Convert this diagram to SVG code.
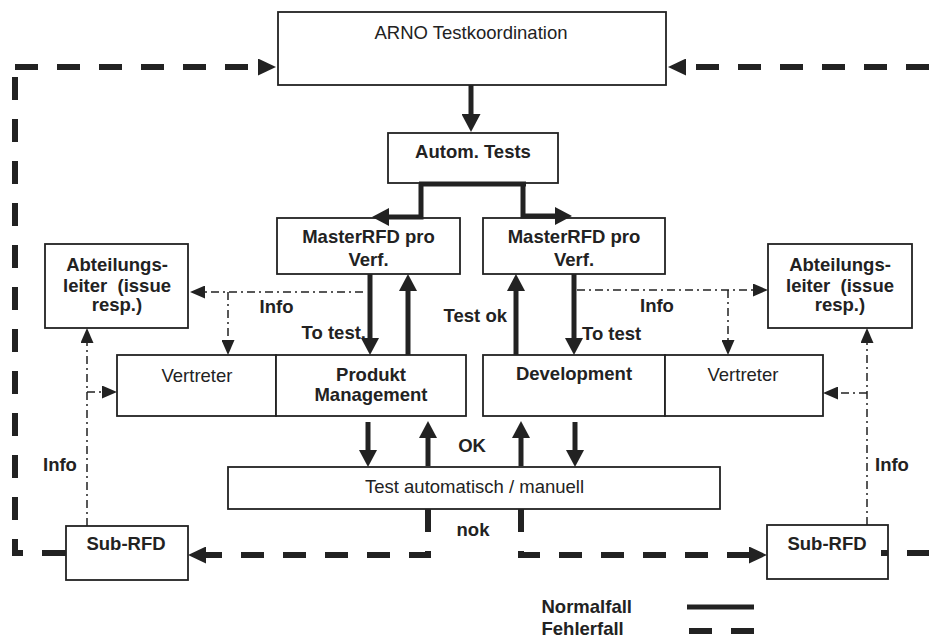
<svg xmlns="http://www.w3.org/2000/svg" width="929" height="640" viewBox="0 0 929 640">
<style>
.box{fill:#fff;stroke:#222;stroke-width:1.8}
.t{font-family:"Liberation Sans",Arial,sans-serif;font-size:18.5px;fill:#222;text-anchor:middle}
.b{font-weight:bold}
.st{text-anchor:start}
.en{text-anchor:end}
.s{stroke:#222;stroke-width:5;fill:none}
.d{stroke:#222;stroke-width:6;fill:none;stroke-dasharray:23 19}
.dd{stroke:#222;stroke-width:1.5;fill:none;stroke-dasharray:8 4 2 4}
</style>
<defs>
<marker id="ah" markerUnits="userSpaceOnUse" markerWidth="17" markerHeight="18" viewBox="0 0 17 18" refX="0" refY="9" orient="auto"><path d="M0,0 L17,9 L0,18 z" fill="#222"/></marker>
<marker id="ahb" markerUnits="userSpaceOnUse" markerWidth="18" markerHeight="19" viewBox="0 0 18 19" refX="0" refY="9.5" orient="auto"><path d="M0,0 L18,9.5 L0,19 z" fill="#222"/></marker>
<marker id="ahd" markerUnits="userSpaceOnUse" markerWidth="18" markerHeight="17" viewBox="0 0 18 17" refX="0" refY="8.5" orient="auto"><path d="M0,0 L18,8.5 L0,17 z" fill="#222"/></marker>
<marker id="aht" markerUnits="userSpaceOnUse" markerWidth="15" markerHeight="13" viewBox="0 0 15 13" refX="0" refY="6.5" orient="auto"><path d="M0,0 L15,6.5 L0,13 z" fill="#222"/></marker>
</defs>
<rect x="0" y="0" width="929" height="640" fill="#fff"/>

<g id="arno"><rect class="box" x="278" y="12" width="388" height="73"/><text class="t" x="471" y="39">ARNO Testkoordination</text></g>
<g id="autom"><rect class="box" x="388" y="133" width="170" height="50"/><text class="t b" x="473" y="158">Autom. Tests</text></g>
<g id="master-left"><rect class="box" x="277" y="218" width="183" height="56"/><text class="t b" x="368.5" y="243">MasterRFD pro</text><text class="t b" x="368.5" y="266">Verf.</text></g>
<g id="master-right"><rect class="box" x="483" y="218" width="182" height="56"/><text class="t b" x="574" y="243">MasterRFD pro</text><text class="t b" x="574" y="266">Verf.</text></g>
<g id="abt-left"><rect class="box" x="45" y="244" width="143" height="84"/><text class="t b" x="117" y="271">Abteilungs-</text><text class="t b" x="117" y="291.5" xml:space="preserve">leiter  (issue</text><text class="t b" x="117" y="311">resp.)</text></g>
<g id="abt-right"><rect class="box" x="768" y="244" width="144" height="84"/><text class="t b" x="840" y="271">Abteilungs-</text><text class="t b" x="840" y="291.5" xml:space="preserve">leiter  (issue</text><text class="t b" x="840" y="311">resp.)</text></g>
<g id="vertreter-left"><rect class="box" x="117" y="355" width="159" height="61"/><text class="t" x="197" y="381.5">Vertreter</text></g>
<g id="pm"><rect class="box" x="276" y="355" width="190" height="61"/><text class="t b" x="371" y="381">Produkt</text><text class="t b" x="371" y="401">Management</text></g>
<g id="dev"><rect class="box" x="483" y="355" width="182" height="61"/><text class="t b" x="574" y="380">Development</text></g>
<g id="vertreter-right"><rect class="box" x="665" y="355" width="158" height="61"/><text class="t" x="743" y="381">Vertreter</text></g>
<g id="test"><rect class="box" x="228" y="467" width="492" height="42"/><text class="t" x="474.5" y="493">Test automatisch / manuell</text></g>
<g id="sub-left"><rect class="box" x="66" y="526" width="122" height="54"/><text class="t b" x="126" y="550">Sub-RFD</text></g>
<g id="sub-right"><rect class="box" x="767" y="525" width="121" height="54"/><text class="t b" x="827" y="550">Sub-RFD</text></g>

<g id="connectors">
<line class="s" x1="471" y1="85" x2="471" y2="114" marker-end="url(#ahb)"/>
<path class="s" d="M419,184 H526"/>
<path class="s" d="M421,184 V217 H389" marker-end="url(#ah)"/>
<path class="s" d="M523,184 V216 H555" marker-end="url(#ah)"/>
<line class="s" x1="370" y1="274" x2="370" y2="338" marker-end="url(#ah)"/>
<line class="s" x1="408" y1="355" x2="408" y2="291" marker-end="url(#ah)"/>
<line class="s" x1="516" y1="355" x2="516" y2="291" marker-end="url(#ah)"/>
<line class="s" x1="574" y1="274" x2="574" y2="338" marker-end="url(#ah)"/>
<line class="s" x1="368" y1="422" x2="368" y2="450" marker-end="url(#ah)"/>
<line class="s" x1="428" y1="466" x2="428" y2="438" marker-end="url(#ah)"/>
<line class="s" x1="521" y1="466" x2="521" y2="438" marker-end="url(#ah)"/>
<line class="s" x1="575" y1="422" x2="575" y2="450" marker-end="url(#ah)"/>

<path class="dd" d="M363,292 H205" marker-end="url(#aht)"/>
<path class="dd" d="M228,292 V340" marker-end="url(#aht)"/>
<path class="dd" d="M87,526 V343" marker-end="url(#aht)"/>
<path class="dd" d="M87,392 H102" marker-end="url(#aht)"/>
<path class="dd" d="M577,290 H753" marker-end="url(#aht)"/>
<path class="dd" d="M728,290 V340" marker-end="url(#aht)"/>
<path class="dd" d="M867,525 V343" marker-end="url(#aht)"/>
<path class="dd" d="M867,393 H838" marker-end="url(#aht)"/>

<path class="d" d="M428,509 V555 H206" marker-end="url(#ahd)"/>
<path class="d" d="M521,509 V555 H749" marker-end="url(#ahd)"/>
<path class="d" d="M15,67 H258" marker-end="url(#ahd)"/>
<path class="d" d="M15,77 V555"/>
<path class="d" style="stroke-dasharray:24 19 30" d="M66,553 H12"/>
<path class="d" style="stroke-dasharray:none" d="M12,553 H15"/>
<path class="d" d="M929,67 H686" marker-end="url(#ahd)"/>
<path class="d" style="stroke-dasharray:7 19 30" d="M881,553 H929"/>
<line stroke="#222" stroke-width="5" x1="687" y1="607" x2="754" y2="607"/>
<line stroke="#222" stroke-width="6" stroke-dasharray="23 19" x1="689" y1="631" x2="754" y2="631"/>
</g>

<g id="labels">
<text class="t b" x="276.5" y="313">Info</text>
<text class="t b en" x="366" y="339">To test.</text>
<text class="t b en" x="507" y="322">Test ok</text>
<text class="t b st" x="582" y="340">To test</text>
<text class="t b st" x="640" y="312">Info</text>
<text class="t b" x="472" y="452">OK</text>
<text class="t b" x="473" y="536">nok</text>
<text class="t b st" x="43" y="471">Info</text>
<text class="t b st" x="875" y="471">Info</text>
<text class="t b st" x="541.5" y="613">Normalfall</text>
<text class="t b st" x="541.5" y="635">Fehlerfall</text>
</g>
</svg>
